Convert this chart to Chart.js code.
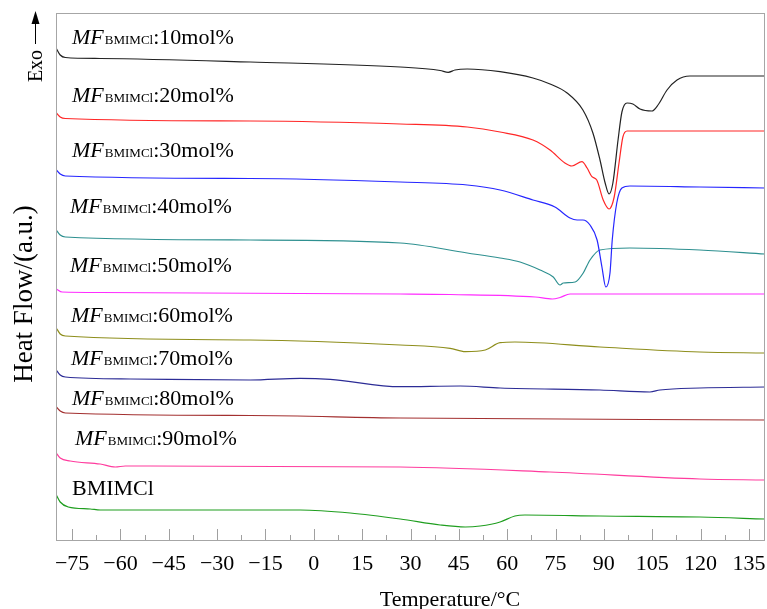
<!DOCTYPE html>
<html>
<head>
<meta charset="utf-8">
<script src="https://cdn.jsdelivr.net/npm/chart.js@4/dist/chart.umd.min.js"></script>
<style>
  html, body { margin: 0; padding: 0; background: #fff; }
  #wrap { width: 767px; height: 609px; }
</style>
</head>
<body>
<div id="wrap"><canvas id="dsc" width="767" height="609"></canvas></div>
<script>
// ── Data (temperature in °C, heat flow in a.u., curves offset vertically) ──

var T10 = [-79.8, -78.7, -77.1, -66.3, -19.7, 26.8, 39.2, 41.7, 43.8, 47.6, 57.8, 68.0, 73.3, 78.6, 83.5, 86.6, 88.8, 90.4, 91.6, 92.8, 94.4, 95.6, 97.2, 99.0, 101.2, 104.9, 106.8, 109.6, 112.7, 116.7, 140];
var H10 = [491, 485, 482.5, 481.5, 478, 473, 469.5, 467.7, 470, 471, 468.3, 462, 456, 447, 430, 407, 380, 357, 346, 357, 400, 428, 437, 436, 431, 429, 435, 450, 460, 464, 464];

var T20 = [-79.9, -78.7, -77.1, -19.7, 26.8, 47.6, 57.8, 68.0, 73.3, 77.9, 80.1, 83.2, 84.8, 86.3, 87.8, 89.8, 91.6, 93.2, 94.7, 95.9, 97.2, 119.8, 140];
var H20 = [427, 423, 421.5, 419, 416, 413, 408, 400, 390, 377, 374, 378.3, 372, 363.3, 360, 340, 331, 343, 377, 403, 409, 409, 409];

var T30 = [-79.9, -78.7, -77.1, -19.7, 26.8, 47.6, 57.8, 68.0, 74.8, 79.5, 81.7, 83.5, 85.7, 87.9, 89.4, 90.6, 91.9, 92.6, 94.0, 95.6, 98.1, 119.8, 140];
var H30 = [370, 366, 364, 361.5, 358, 355, 350, 340, 333, 322, 320, 320, 315, 300, 273, 253, 267, 300, 337, 352, 354, 353, 352];

var T40 = [-79.9, -78.7, -77.1, -19.7, 26.8, 47.6, 57.8, 64.0, 70.2, 74.3, 76.4, 77.4, 81.1, 83.6, 85.7, 88.8, 98.1, 119.8, 140];
var H40 = [310, 305, 303, 300, 297, 287, 282, 278, 270, 263, 255, 257, 258, 267, 280, 290, 292, 290, 286];

var T50 = [-79.9, -78.1, -66.3, 26.8, 42.3, 68.7, 74.0, 76.4, 79.5, 140];
var H50 = [251, 248, 247.5, 246, 245.5, 243, 241, 242.5, 246, 246];

var T60 = [-79.9, -78.7, -77.1, -19.7, 26.8, 42.3, 47.0, 53.2, 57.8, 62.4, 88.8, 119.8, 140];
var H60 = [212, 206, 204, 200, 195, 191.7, 188.3, 190, 197.3, 198, 193, 188, 187];

var T70 = [-79.9, -78.7, -77.1, -57.0, -19.7, -4.2, 5.1, 26.8, 45.4, 57.8, 88.8, 104.3, 107.4, 119.8, 140];
var H70 = [170, 165, 163, 161, 160, 161.7, 160.7, 153.3, 154, 152, 150, 148, 150, 152, 153];

var T80 = [-79.9, -78.7, -77.1, -19.7, 26.8, 140];
var H80 = [133, 129, 127, 124.5, 122, 120];

var T90 = [-79.9, -78.7, -75.6, -66.3, -61.6, -58.5, -50.8, 26.8, 73.3, 119.8, 140];
var H90 = [87, 82, 79, 76, 73, 74, 74, 73, 68, 61, 60];

var TB = [-79.9, -78.7, -76.2, -69.4, -66.3, -4.2, 11.3, 26.8, 39.2, 47.0, 51.6, 57.8, 62.4, 65.5, 88.8, 119.8, 140];
var HB = [45, 38, 33, 31, 30, 30, 27, 21, 15, 13, 14, 18, 24, 25, 24, 23, 21];

var X_TICKS = [-75, -60, -45, -30, -15, 0, 15, 30, 45, 60, 75, 90, 105, 120, 135];
var MOL = ["10", "20", "30", "40", "50", "60", "70", "80", "90"];

// ── Styling ─────────────────────────────────────

var SERIF = '"Liberation Serif", "Times New Roman", serif';
var COLORS = ["#222222", "#ff2626", "#2626ff", "#2e9090", "#ff2cff", "#8e8e1c", "#2c2c96", "#a33030", "#ff3c9e", "#1f9e1f"];
// label left x / baseline y, in px
var LABEL_POS = [[72, 44], [72, 101.5], [72, 156.5], [70, 212.5], [70, 271.5], [71, 321.5], [71, 365], [72, 405], [75, 445], [72, 495]];

function pts(t, h) {
  var out = [];
  for (var i = 0; i < t.length; i++) out.push({ x: t[i], y: h[i] });
  return out;
}

var series = [pts(T10, H10), pts(T20, H20), pts(T30, H30), pts(T40, H40), pts(T50, H50),
              pts(T60, H60), pts(T70, H70), pts(T80, H80), pts(T90, H90), pts(TB, HB)];

var datasets = series.map(function (d, i) {
  return {
    data: d, borderColor: COLORS[i], borderWidth: 1.2, pointRadius: 0,
    cubicInterpolationMode: "monotone", fill: false
  };
});

// ── Decorations plugin: frame, ticks, labels, titles ──

var decor = {
  id: "decor",
  afterDraw: function (chart) {
    var ctx = chart.ctx, a = chart.chartArea, xs = chart.scales.x;
    ctx.save();

    // frame
    ctx.strokeStyle = "#a6a6a6";
    ctx.lineWidth = 1;
    ctx.strokeRect(Math.round(a.left) + 0.5, Math.round(a.top) + 0.5, Math.round(a.right - a.left) - 1, Math.round(a.bottom - a.top));

    // inward ticks on x axis, minor every 7.5
    ctx.strokeStyle = "#a0a0a0";
    for (var v = -75; v <= 135; v += 7.5) {
      var px = Math.round(xs.getPixelForValue(v)) + 0.5;
      var len = (v % 15 === 0) ? 11 : 5;
      ctx.beginPath();
      ctx.moveTo(px, a.bottom);
      ctx.lineTo(px, a.bottom - len);
      ctx.stroke();
    }

    // curve labels
    ctx.fillStyle = "#000";
    ctx.textBaseline = "alphabetic";
    ctx.textAlign = "left";
    for (var i = 0; i < LABEL_POS.length; i++) {
      var x = LABEL_POS[i][0], y = LABEL_POS[i][1];
      if (i < MOL.length) {
        ctx.font = "italic 22px " + SERIF;
        ctx.fillText("MF", x, y);
        x += ctx.measureText("MF").width + 1;
        ctx.font = "13px " + SERIF;
        ctx.fillText("BMIMCl", x, y);
        x += ctx.measureText("BMIMCl").width;
        ctx.font = "22px " + SERIF;
        ctx.fillText(":" + MOL[i] + "mol%", x, y);
      } else {
        ctx.font = "22px " + SERIF;
        ctx.fillText("BMIMCl", x, y);
      }
    }

    // x title
    ctx.font = "22px " + SERIF;
    ctx.textAlign = "center";
    ctx.fillText("Temperature/\u00B0C", 450, 606);

    // y title
    ctx.save();
    ctx.translate(32, 294);
    ctx.rotate(-Math.PI / 2);
    ctx.font = "27px " + SERIF;
    ctx.textAlign = "center";
    ctx.textBaseline = "alphabetic";
    ctx.fillText("Heat Flow/(a.u.)", 0, 0);
    ctx.restore();

    // Exo arrow
    ctx.save();
    ctx.translate(42, 66);
    ctx.rotate(-Math.PI / 2);
    ctx.font = "20px " + SERIF;
    ctx.textAlign = "center";
    ctx.fillText("Exo", 0, 0);
    ctx.restore();
    ctx.strokeStyle = "#000";
    ctx.lineWidth = 1;
    ctx.beginPath();
    ctx.moveTo(35.5, 44);
    ctx.lineTo(35.5, 22);
    ctx.stroke();
    ctx.fillStyle = "#000";
    ctx.beginPath();
    ctx.moveTo(35.5, 11);
    ctx.lineTo(31.5, 24);
    ctx.lineTo(39.5, 24);
    ctx.closePath();
    ctx.fill();

    ctx.restore();
  }
};

new Chart(document.getElementById("dsc"), {
  type: "line",
  data: { datasets: datasets },
  plugins: [decor],
  options: {
    responsive: false, devicePixelRatio: 1, animation: false,
    layout: { padding: { left: 56, right: 2, top: 13, bottom: 0 } },
    plugins: { legend: { display: false }, tooltip: { enabled: false } },
    scales: {
      x: {
        type: "linear", min: -80, max: 140,
        afterBuildTicks: function (s) { s.ticks = X_TICKS.map(function (v) { return { value: v }; }); },
        afterFit: function (s) { s.height = 69; s.paddingLeft = 0; s.paddingRight = 0; },
        grid: { display: false, drawTicks: false },
        border: { display: false },
        ticks: {
          padding: 11, color: "#000", maxRotation: 0, autoSkip: false,
          font: { family: SERIF, size: 22 },
          callback: function (v) { return v < 0 ? "\u2212" + Math.abs(v) : String(v); }
        }
      },
      y: {
        display: false, min: 0, max: 527
      }
    }
  }
});
</script>
</body>
</html>
